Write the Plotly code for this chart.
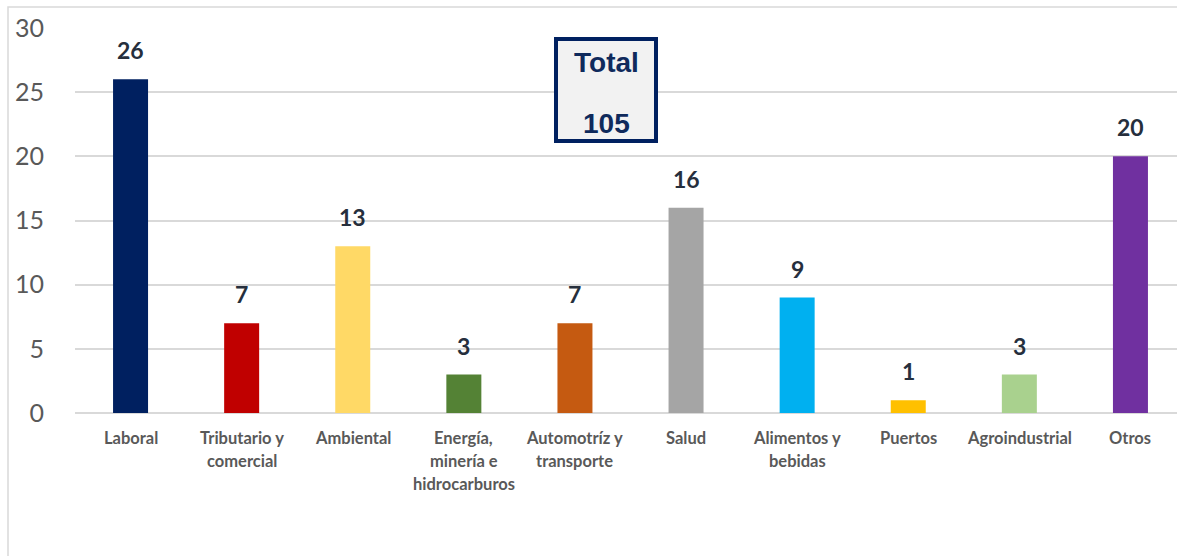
import plotly.graph_objects as go

categories = ["Laboral", "Tributario y<br>comercial", "Ambiental", "Energía,<br>minería e<br>hidrocarburos",
              "Automotríz y<br>transporte", "Salud", "Alimentos y<br>bebidas", "Puertos", "Agroindustrial", "Otros"]
values = [26, 7, 13, 3, 7, 16, 9, 1, 3, 20]
colors = ["#002060", "#c00000", "#ffd966", "#548235", "#c55a11", "#a5a5a5", "#00b0f0", "#ffc000", "#a9d18e", "#7030a0"]
y_ticks = [0, 5, 10, 15, 20, 25, 30]
total_label = "Total"
total_value = sum(values)

W, H = 1177, 556
ML, MR, MT, MB = 75, 0, 28, 143
pw = W - ML - MR
ph = H - MT - MB

x = list(range(len(categories)))
fig = go.Figure()
fig.add_trace(go.Bar(x=x, y=values, marker=dict(color=colors, line=dict(width=0)), width=0.315,
                     hoverinfo="skip"))

LABEL_FONT = "Lato, Calibri, 'Open Sans', sans-serif"
anns = []
for i, v in enumerate(values):
    anns.append(dict(x=i, y=v, xref="x", yref="y", text=f"<b>{v}</b>", showarrow=False,
                     yanchor="middle", yshift=29, font=dict(family=LABEL_FONT, size=23, color="#262f3d")))
    for j, line in enumerate(categories[i].split("<br>")):
        anns.append(dict(x=i, y=0, xref="x", yref="y", text=f"<b>{line}</b>", showarrow=False,
                         yanchor="middle", yshift=-25 - 23 * j,
                         font=dict(family=LABEL_FONT, size=16.5, color="#595959")))

# total box
for txt, py in ((f"<b>{total_label}</b>", 62), (f"<b>{total_value}</b>", 124)):
    anns.append(dict(x=(606 - ML) / pw, y=(H - MB - py) / ph, xref="paper", yref="paper", text=txt,
                     showarrow=False, xanchor="center", yanchor="middle",
                     font=dict(family="Liberation Sans, Arial", size=28, color="#0f2a5c")))

shapes = [
    dict(type="rect", xref="paper", yref="paper",
         x0=(8 - ML) / pw, x1=(W + 20 - ML) / pw, y0=(H - MB - H - 20) / ph, y1=(H - MB - 7) / ph,
         line=dict(color="#d9d9d9", width=1.5), fillcolor="rgba(0,0,0,0)", layer="below"),
    dict(type="rect", xref="paper", yref="paper",
         x0=(556 - ML) / pw, x1=(656 - ML) / pw, y0=(H - MB - 141) / ph, y1=(H - MB - 39) / ph,
         line=dict(color="#002060", width=4), fillcolor="#f2f2f2", layer="above"),
]

cat_w = 111.1
x_left = -0.5
x_right = x_left + pw / cat_w

fig.update_layout(
    width=W, height=H, margin=dict(l=ML, r=MR, t=MT, b=MB, pad=0),
    paper_bgcolor="white", plot_bgcolor="white", showlegend=False,
    annotations=anns, shapes=shapes,
    xaxis=dict(range=[x_left, x_right], showticklabels=False, showgrid=False, zeroline=False,
               showline=False, ticks=""),
    yaxis=dict(range=[0, 30], tickvals=y_ticks, showgrid=True, gridcolor="#d9d9d9", gridwidth=1.5,
               zeroline=True, zerolinecolor="#d9d9d9", zerolinewidth=2, showline=False, ticks="",
               ticklabelstandoff=30,
               tickfont=dict(family="Lato, Calibri, sans-serif", size=25, color="#595959")),
)

fig.write_html("out.html")
